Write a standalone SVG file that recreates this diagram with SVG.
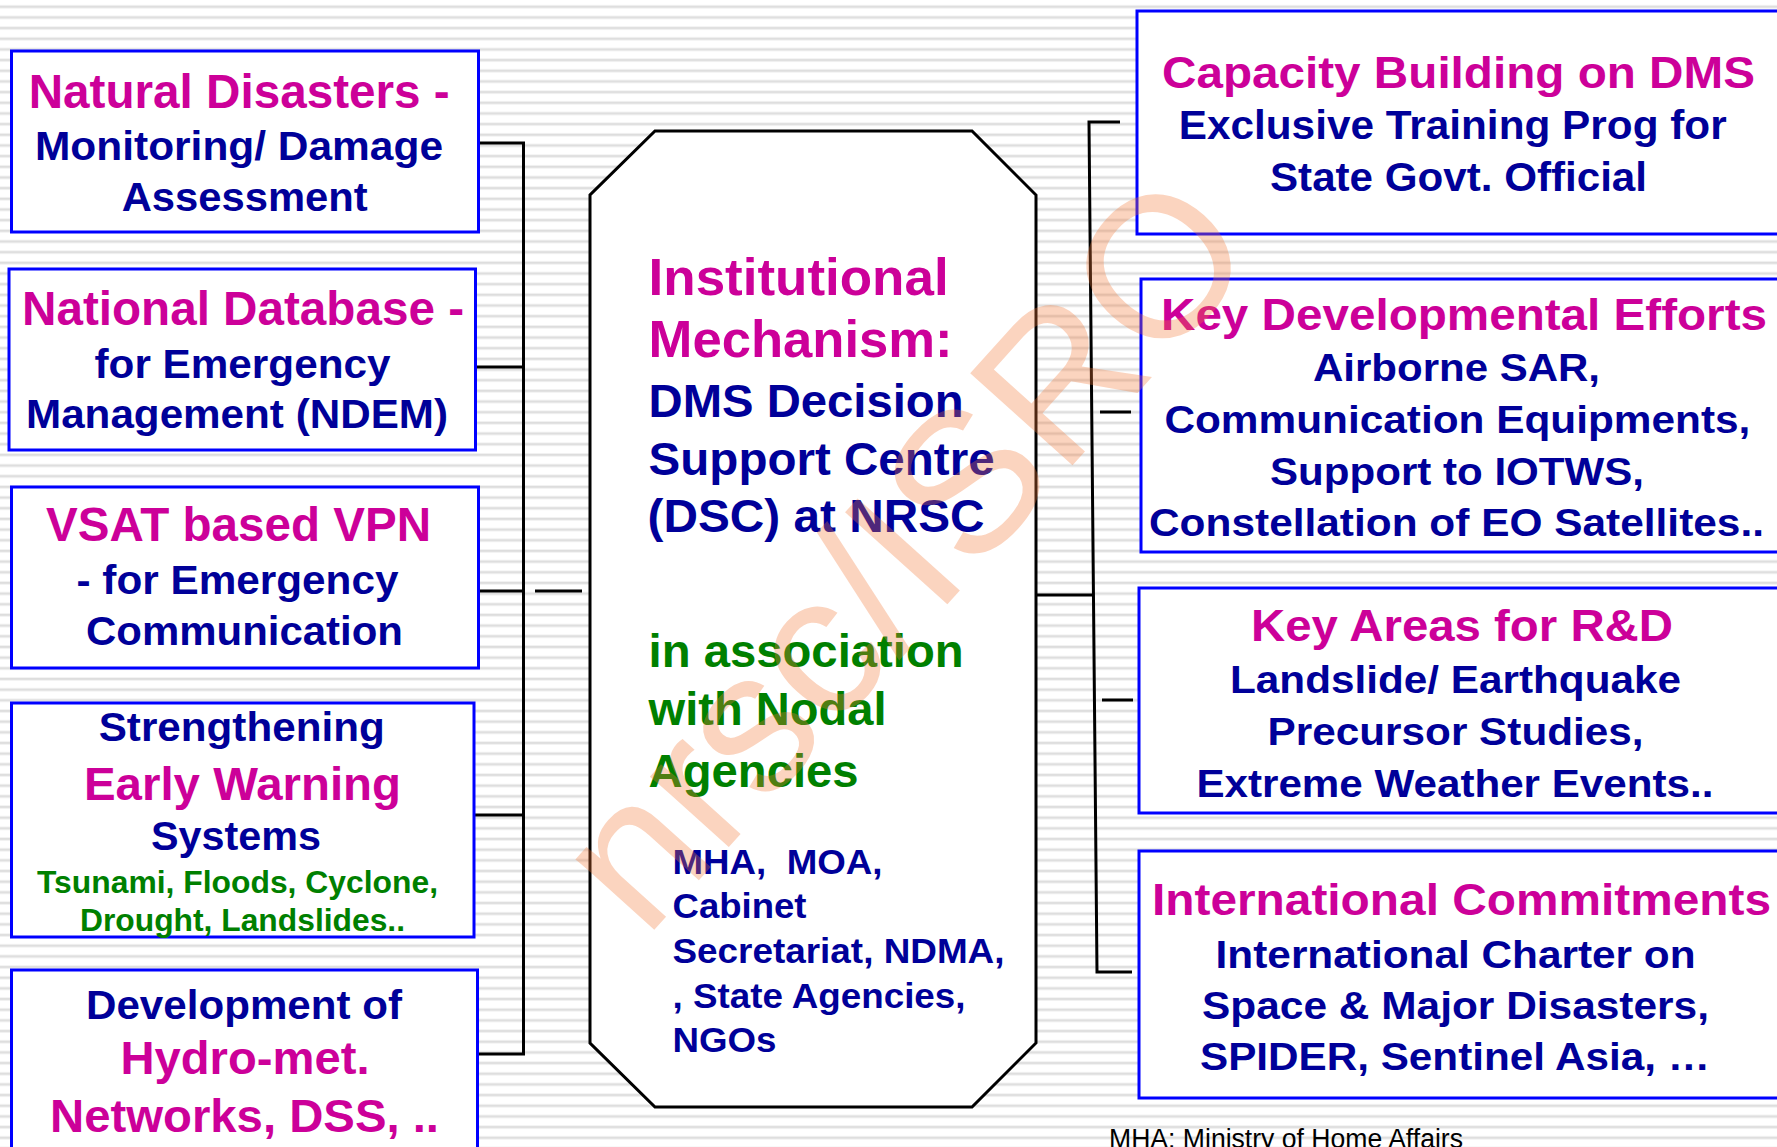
<svg xmlns="http://www.w3.org/2000/svg" width="1777" height="1147" viewBox="0 0 1777 1147">
<defs>
<pattern id="stripes" x="0" y="0" width="20" height="10.67" patternUnits="userSpaceOnUse">
<rect width="20" height="10.67" fill="#ffffff"/>
<rect y="5.2" width="20" height="3.2" fill="#ececec"/>
<rect y="5.9" width="20" height="1.6" fill="#dcdcdc"/>
</pattern>
<style>
.box{fill:#ffffff;stroke:#0000ff;stroke-width:3}
.oct{fill:#ffffff;stroke:#000000;stroke-width:3}
.ln{fill:none;stroke:#000000;stroke-width:3}
text{font-family:"Liberation Sans",Arial,sans-serif;font-weight:bold;white-space:pre}
.m{fill:#cc0099}
.n{fill:#000099}
.g{fill:#008000}
.foot{font-weight:normal;fill:#000000}
.wm{font-weight:normal;fill:#f47b3a;opacity:0.32}
</style>
</defs>
<rect width="1777" height="1147" fill="url(#stripes)"/>

<g id="connectors">
<polyline class="ln" points="478,143 523.5,143 523.5,1054 478,1054"/>
<line class="ln" x1="475" y1="367" x2="523.5" y2="367"/>
<line class="ln" x1="478" y1="591" x2="523.5" y2="591"/>
<line class="ln" x1="474" y1="815" x2="523.5" y2="815"/>
<line class="ln" x1="535" y1="591" x2="582" y2="591"/>
<line class="ln" x1="1034" y1="595" x2="1093" y2="595"/>
<polyline class="ln" points="1120,122 1089,122 1097,972 1132,972"/>
<line class="ln" x1="1100" y1="412" x2="1131" y2="412"/>
<line class="ln" x1="1102" y1="700" x2="1133" y2="700"/>
</g>

<g id="natural-disasters">
<rect class="box" x="11.5" y="51" width="467" height="181"/>
<text class="m" x="28.7" y="108" font-size="48" textLength="421" lengthAdjust="spacingAndGlyphs">Natural Disasters -</text>
<text class="n" x="35" y="160" font-size="40" textLength="408" lengthAdjust="spacingAndGlyphs">Monitoring/ Damage</text>
<text class="n" x="121.7" y="211" font-size="40" textLength="246" lengthAdjust="spacingAndGlyphs">Assessment</text>
</g>

<g id="national-database">
<rect class="box" x="9" y="269" width="466.5" height="181"/>
<text class="m" x="22" y="325" font-size="48" textLength="442" lengthAdjust="spacingAndGlyphs">National Database -</text>
<text class="n" x="94.5" y="378" font-size="40" textLength="296" lengthAdjust="spacingAndGlyphs">for Emergency</text>
<text class="n" x="26" y="428" font-size="40" textLength="422" lengthAdjust="spacingAndGlyphs">Management (NDEM)</text>
</g>

<g id="vsat-vpn">
<rect class="box" x="11.5" y="487" width="467" height="181"/>
<text class="m" x="46" y="541" font-size="48" textLength="385" lengthAdjust="spacingAndGlyphs">VSAT based VPN</text>
<text class="n" x="76.5" y="594" font-size="40" textLength="322" lengthAdjust="spacingAndGlyphs">- for Emergency</text>
<text class="n" x="86" y="645" font-size="40" textLength="317" lengthAdjust="spacingAndGlyphs">Communication</text>
</g>

<g id="early-warning">
<rect class="box" x="11.5" y="703" width="462.5" height="234"/>
<text class="n" x="98.7" y="740.5" font-size="40" textLength="286" lengthAdjust="spacingAndGlyphs">Strengthening</text>
<text class="m" x="84" y="800" font-size="47" textLength="317" lengthAdjust="spacingAndGlyphs">Early Warning</text>
<text class="n" x="151" y="850" font-size="40" textLength="170" lengthAdjust="spacingAndGlyphs">Systems</text>
<text class="g" x="37" y="892.5" font-size="32" textLength="401" lengthAdjust="spacingAndGlyphs">Tsunami, Floods, Cyclone,</text>
<text class="g" x="80" y="931" font-size="32" textLength="325" lengthAdjust="spacingAndGlyphs">Drought, Landslides..</text>
</g>

<g id="hydro-met">
<rect class="box" x="11.5" y="970" width="466" height="200"/>
<text class="n" x="86" y="1019" font-size="41" textLength="316" lengthAdjust="spacingAndGlyphs">Development of</text>
<text class="m" x="120.5" y="1074" font-size="46" textLength="249" lengthAdjust="spacingAndGlyphs">Hydro-met.</text>
<text class="m" x="50" y="1132" font-size="46" textLength="389" lengthAdjust="spacingAndGlyphs">Networks, DSS, ..</text>
</g>

<g id="institutional-mechanism">
<polygon class="oct" points="655,131 972,131 1036,195 1036,1043 972,1107 655,1107 590,1043 590,195"/>
<text class="m" x="648.6" y="294.5" font-size="52" textLength="300" lengthAdjust="spacingAndGlyphs">Institutional</text>
<text class="m" x="648.6" y="357" font-size="52" textLength="304" lengthAdjust="spacingAndGlyphs">Mechanism:</text>
<text class="n" x="648.6" y="416.5" font-size="46" textLength="315" lengthAdjust="spacingAndGlyphs">DMS Decision</text>
<text class="n" x="648.6" y="475" font-size="46" textLength="346" lengthAdjust="spacingAndGlyphs">Support Centre</text>
<text class="n" x="647.5" y="532" font-size="46" textLength="337" lengthAdjust="spacingAndGlyphs">(DSC) at NRSC</text>
<text class="g" x="648.6" y="667" font-size="46" textLength="315" lengthAdjust="spacingAndGlyphs">in association</text>
<text class="g" x="648.6" y="725" font-size="46" textLength="238" lengthAdjust="spacingAndGlyphs">with Nodal</text>
<text class="g" x="648.6" y="786.7" font-size="46" textLength="210" lengthAdjust="spacingAndGlyphs">Agencies</text>
<text class="n" x="672.5" y="874" font-size="35" textLength="210" lengthAdjust="spacingAndGlyphs">MHA,  MOA,</text>
<text class="n" x="672.5" y="918" font-size="35" textLength="134" lengthAdjust="spacingAndGlyphs">Cabinet</text>
<text class="n" x="672.5" y="963" font-size="35" textLength="332" lengthAdjust="spacingAndGlyphs">Secretariat, NDMA,</text>
<text class="n" x="672.5" y="1008" font-size="35" textLength="293" lengthAdjust="spacingAndGlyphs">, State Agencies,</text>
<text class="n" x="672.5" y="1052" font-size="35" textLength="104" lengthAdjust="spacingAndGlyphs">NGOs</text>
</g>

<g id="capacity-building">
<rect class="box" x="1137" y="11" width="700" height="223"/>
<text class="m" x="1162" y="87.5" font-size="45" textLength="593" lengthAdjust="spacingAndGlyphs">Capacity Building on DMS</text>
<text class="n" x="1178.7" y="139" font-size="40" textLength="548" lengthAdjust="spacingAndGlyphs">Exclusive Training Prog for</text>
<text class="n" x="1270" y="191" font-size="40" textLength="377" lengthAdjust="spacingAndGlyphs">State Govt. Official</text>
</g>

<g id="key-developmental-efforts">
<rect class="box" x="1141" y="279" width="700" height="273"/>
<text class="m" x="1161" y="330" font-size="45" textLength="606" lengthAdjust="spacingAndGlyphs">Key Developmental Efforts</text>
<text class="n" x="1313" y="381" font-size="39" textLength="287" lengthAdjust="spacingAndGlyphs">Airborne SAR,</text>
<text class="n" x="1164.4" y="433" font-size="39" textLength="586" lengthAdjust="spacingAndGlyphs">Communication Equipments,</text>
<text class="n" x="1270" y="485" font-size="39" textLength="374" lengthAdjust="spacingAndGlyphs">Support to IOTWS,</text>
<text class="n" x="1149" y="535.7" font-size="39" textLength="615" lengthAdjust="spacingAndGlyphs">Constellation of EO Satellites..</text>
</g>

<g id="key-areas-rd">
<rect class="box" x="1139" y="588" width="700" height="225"/>
<text class="m" x="1251" y="640.5" font-size="45" textLength="422" lengthAdjust="spacingAndGlyphs">Key Areas for R&amp;D</text>
<text class="n" x="1230" y="693" font-size="39" textLength="451" lengthAdjust="spacingAndGlyphs">Landslide/ Earthquake</text>
<text class="n" x="1267.6" y="745.3" font-size="39" textLength="376" lengthAdjust="spacingAndGlyphs">Precursor Studies,</text>
<text class="n" x="1196.4" y="796.6" font-size="39" textLength="517" lengthAdjust="spacingAndGlyphs">Extreme Weather Events..</text>
</g>

<g id="international-commitments">
<rect class="box" x="1139" y="851" width="700" height="247"/>
<text class="m" x="1152" y="915" font-size="45" textLength="619" lengthAdjust="spacingAndGlyphs">International Commitments</text>
<text class="n" x="1215.6" y="968" font-size="39" textLength="480" lengthAdjust="spacingAndGlyphs">International Charter on</text>
<text class="n" x="1202" y="1018.6" font-size="39" textLength="507" lengthAdjust="spacingAndGlyphs">Space &amp; Major Disasters,</text>
<text class="n" x="1200" y="1070" font-size="39" textLength="510" lengthAdjust="spacingAndGlyphs">SPIDER, Sentinel Asia, …</text>
</g>

<g id="footnote">
<text class="foot" x="1109" y="1148" font-size="27" textLength="354" lengthAdjust="spacingAndGlyphs">MHA: Ministry of Home Affairs</text>
</g>

<g id="watermark">
<text class="wm" transform="translate(645,940) rotate(-48)" font-size="200">nrsc/ISRO</text>
</g>
</svg>
